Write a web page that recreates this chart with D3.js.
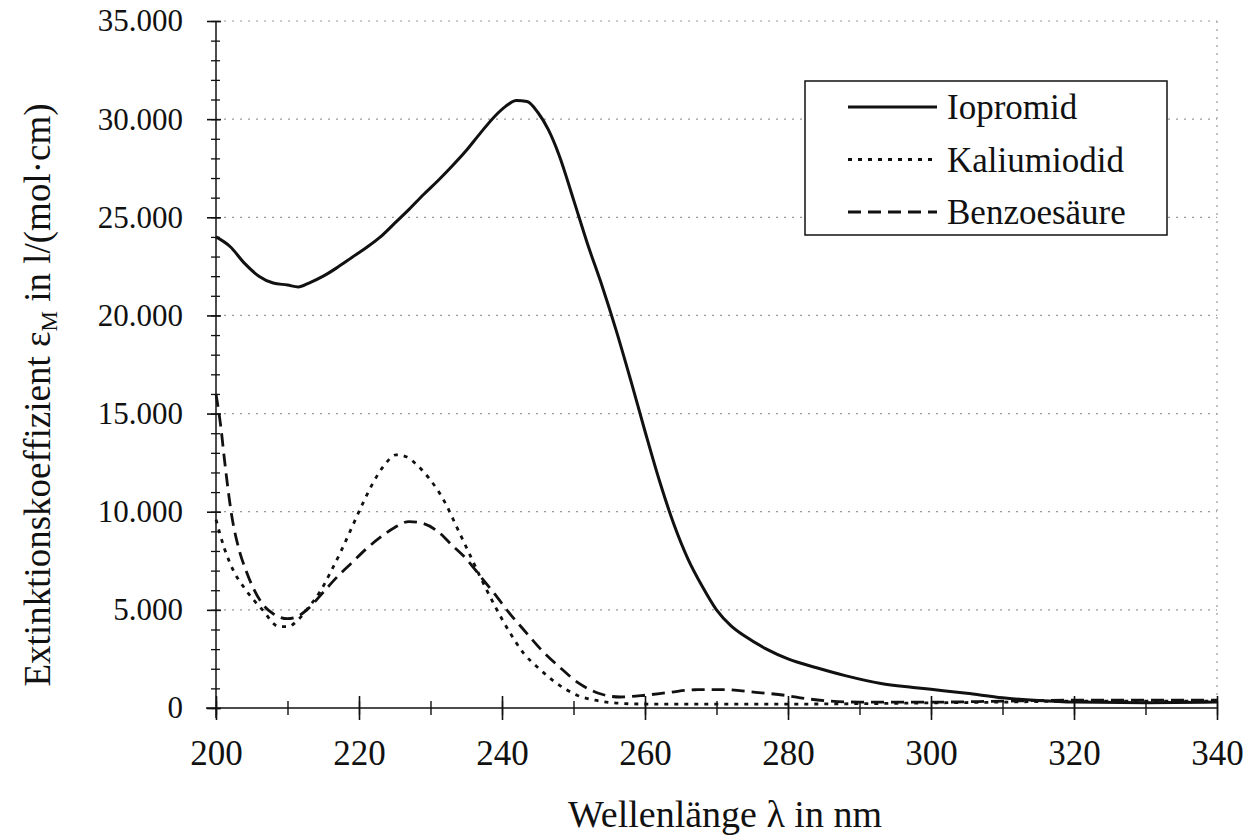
<!DOCTYPE html>
<html lang="de">
<head>
<meta charset="UTF-8">
<title>Extinktionskoeffizient</title>
<script src="https://cdn.jsdelivr.net/npm/d3@7"></script>
<style>
  body { margin: 0; background: #fff; }
  svg text { font-family: "Liberation Serif", "DejaVu Serif", serif; fill: #111; }
</style>
</head>
<body>
<svg id="chart" width="1246" height="837"></svg>
<script>
// wavelength (nm) / extinction pairs
const iopromidNm  = [200, 202, 204, 206, 208, 210, 211.5, 213, 215, 217, 219, 221, 223, 225, 227, 229, 231, 233, 235, 237, 239, 240.5, 242, 243.5, 245, 246.5, 248, 250, 252, 254, 256, 258, 260, 262, 264, 266, 268, 270, 272, 274, 277, 280, 284, 288, 293, 297.5, 300, 305, 310, 315, 320, 330, 340];
const iopromidVal = [24000, 23500, 22650, 22000, 21650, 21550, 21450, 21650, 22000, 22450, 22950, 23450, 24000, 24700, 25400, 26150, 26850, 27600, 28400, 29300, 30150, 30650, 30950, 30900, 30350, 29450, 28150, 25900, 23600, 21500, 19200, 16700, 14100, 11600, 9400, 7600, 6200, 5000, 4200, 3650, 3000, 2500, 2050, 1650, 1250, 1050, 950, 750, 520, 380, 300, 270, 300];

const kaliumNm  = [200, 201.2, 202.3, 204.2, 206.5, 208.8, 210.1, 211.5, 213, 214.5, 216, 217.5, 219, 220.5, 222, 223.5, 225.2, 226.6, 228.2, 229.8, 231, 232.2, 233.5, 235, 236.8, 239, 241, 243, 245.2, 247.5, 250.5, 253, 256, 260, 270, 280, 290, 300, 310, 320, 330, 340];
const kaliumVal = [9600, 8100, 7100, 6000, 5000, 4150, 4150, 4500, 5150, 5900, 6900, 8000, 9200, 10400, 11500, 12350, 12900, 12800, 12350, 11700, 11100, 10350, 9350, 8200, 6800, 5200, 3900, 2800, 2000, 1300, 650, 400, 250, 200, 200, 200, 220, 260, 300, 350, 350, 350];

const benzoeNm  = [200, 200.7, 201.2, 202.2, 203.2, 204.2, 206.5, 208, 210, 211.6, 213, 215, 217, 219, 221, 223, 225, 227, 229, 231, 233, 235, 237, 239, 241, 243, 245.4, 248, 251, 253.5, 256.5, 260, 263.5, 267, 271, 275.5, 279.5, 282.5, 286, 290, 300, 310, 320, 330, 340];
const benzoeVal = [16000, 14250, 12600, 9800, 8100, 7000, 5300, 4800, 4550, 4700, 5100, 5900, 6700, 7400, 8100, 8700, 9200, 9500, 9400, 9000, 8300, 7600, 6700, 5800, 4850, 4000, 3000, 2100, 1200, 750, 560, 650, 800, 930, 940, 800, 650, 480, 350, 300, 300, 350, 400, 400, 400];

const seriesNames = ["Iopromid", "Kaliumiodid", "Benzoesäure"];
const xMajorTicks = [200, 220, 240, 260, 280, 300, 320, 340];
const yMajorTicks = [0, 5000, 10000, 15000, 20000, 25000, 30000, 35000];

const svg = d3.select("#chart");

const x = d3.scaleLinear().domain([200, 340]).range([216, 1217]);
const y = d3.scaleLinear().domain([0, 35000]).range([708, 21]);

const de = d3.formatLocale({decimal: ",", thousands: ".", grouping: [3], currency: ["", " €"]});
const fmt = de.format(",");

// grid
svg.append("g").selectAll("line")
  .data(yMajorTicks.slice(1))
  .join("line")
  .attr("x1", x(200) + 8).attr("x2", x(340))
  .attr("y1", d => y(d)).attr("y2", d => y(d))
  .attr("stroke", "#999").attr("stroke-width", 1.2)
  .attr("stroke-dasharray", "2,6");

svg.append("line")
  .attr("x1", x(340)).attr("x2", x(340))
  .attr("y1", y(35000)).attr("y2", y(0))
  .attr("stroke", "#999").attr("stroke-width", 1.2)
  .attr("stroke-dasharray", "2,6");

// axes
const yAxis = svg.append("g").attr("transform", `translate(${x(200)},0)`);
yAxis.call(d3.axisLeft(y).tickValues(d3.range(0, 35001, 1000)).tickSize(4).tickFormat(""))
  .call(g => g.select(".domain").remove());
yAxis.selectAll(".tick line").attr("x2", -5).attr("x1", 4).attr("stroke", "#111").attr("stroke-width", 1.3);
yAxis.append("g")
  .call(d3.axisLeft(y).tickValues(yMajorTicks).tickSize(9).tickPadding(24).tickFormat(d => fmt(d)))
  .call(g => g.select(".domain").remove())
  .call(g => g.selectAll(".tick line").attr("x1", 5).attr("stroke", "#111").attr("stroke-width", 1.6))
  .call(g => g.selectAll("text").attr("font-size", 31).attr("font-family", "Liberation Serif").attr("fill", "#111"));
yAxis.append("line").attr("y1", y(35000)).attr("y2", y(0) + 10).attr("stroke", "#111").attr("stroke-width", 1.5);

const xAxis = svg.append("g").attr("transform", `translate(0,${y(0)})`);
xAxis.call(d3.axisBottom(x).tickValues(d3.range(200, 341, 10)).tickSize(7).tickFormat(""))
  .call(g => g.select(".domain").remove());
xAxis.selectAll(".tick line").attr("y1", -7).attr("stroke", "#111").attr("stroke-width", 1.4);
xAxis.append("g")
  .call(d3.axisBottom(x).tickValues(xMajorTicks).tickSize(12).tickPadding(20).tickFormat(d3.format("d")))
  .call(g => g.select(".domain").remove())
  .call(g => g.selectAll(".tick line").attr("y1", -12).attr("stroke", "#111").attr("stroke-width", 1.6))
  .call(g => g.selectAll("text").attr("font-size", 35).attr("font-family", "Liberation Serif").attr("fill", "#111"));
xAxis.append("line").attr("x1", x(200) - 10).attr("x2", x(340)).attr("stroke", "#111").attr("stroke-width", 1.5);

// curves
const line = d3.line().x(d => x(d[0])).y(d => y(d[1])).curve(d3.curveMonotoneX);
const series = [
  {name: seriesNames[0], pts: d3.zip(iopromidNm, iopromidVal), dash: null},
  {name: seriesNames[1], pts: d3.zip(kaliumNm, kaliumVal), dash: "4,6"},
  {name: seriesNames[2], pts: d3.zip(benzoeNm, benzoeVal), dash: "13,7"}
];
svg.append("g").selectAll("path")
  .data(series)
  .join("path")
  .attr("d", d => line(d.pts))
  .attr("fill", "none")
  .attr("stroke", "#111")
  .attr("stroke-width", d => d.dash ? 2.8 : 3)
  .attr("stroke-dasharray", d => d.dash);

// axis titles
svg.append("text")
  .attr("x", 725).attr("y", 827)
  .attr("text-anchor", "middle").attr("font-size", 38)
  .text("Wellenlänge λ in nm");

const yt = svg.append("text")
  .attr("transform", "translate(50,395) rotate(-90)")
  .attr("text-anchor", "middle").attr("font-size", 37);
yt.append("tspan").text("Extinktionskoeffizient ε");
yt.append("tspan").attr("font-size", 23).attr("dy", 7).text("M");
yt.append("tspan").attr("dy", -7).text(" in l/(mol·cm)");

// legend
const lg = svg.append("g");
lg.append("rect").attr("x", 805).attr("y", 81).attr("width", 362).attr("height", 154)
  .attr("fill", "#fff").attr("stroke", "#111").attr("stroke-width", 1.5);
const rows = lg.selectAll("g.row").data(series).join("g").attr("class", "row")
  .attr("transform", (d, i) => `translate(0,${107 + i * 52.5})`);
rows.append("line").attr("x1", 848).attr("x2", 937)
  .attr("stroke", "#111").attr("stroke-width", d => d.dash ? 2.8 : 3)
  .attr("stroke-dasharray", d => d.dash);
rows.append("text").attr("x", 947).attr("y", 12).attr("font-size", 35).text(d => d.name);
</script>
</body>
</html>
